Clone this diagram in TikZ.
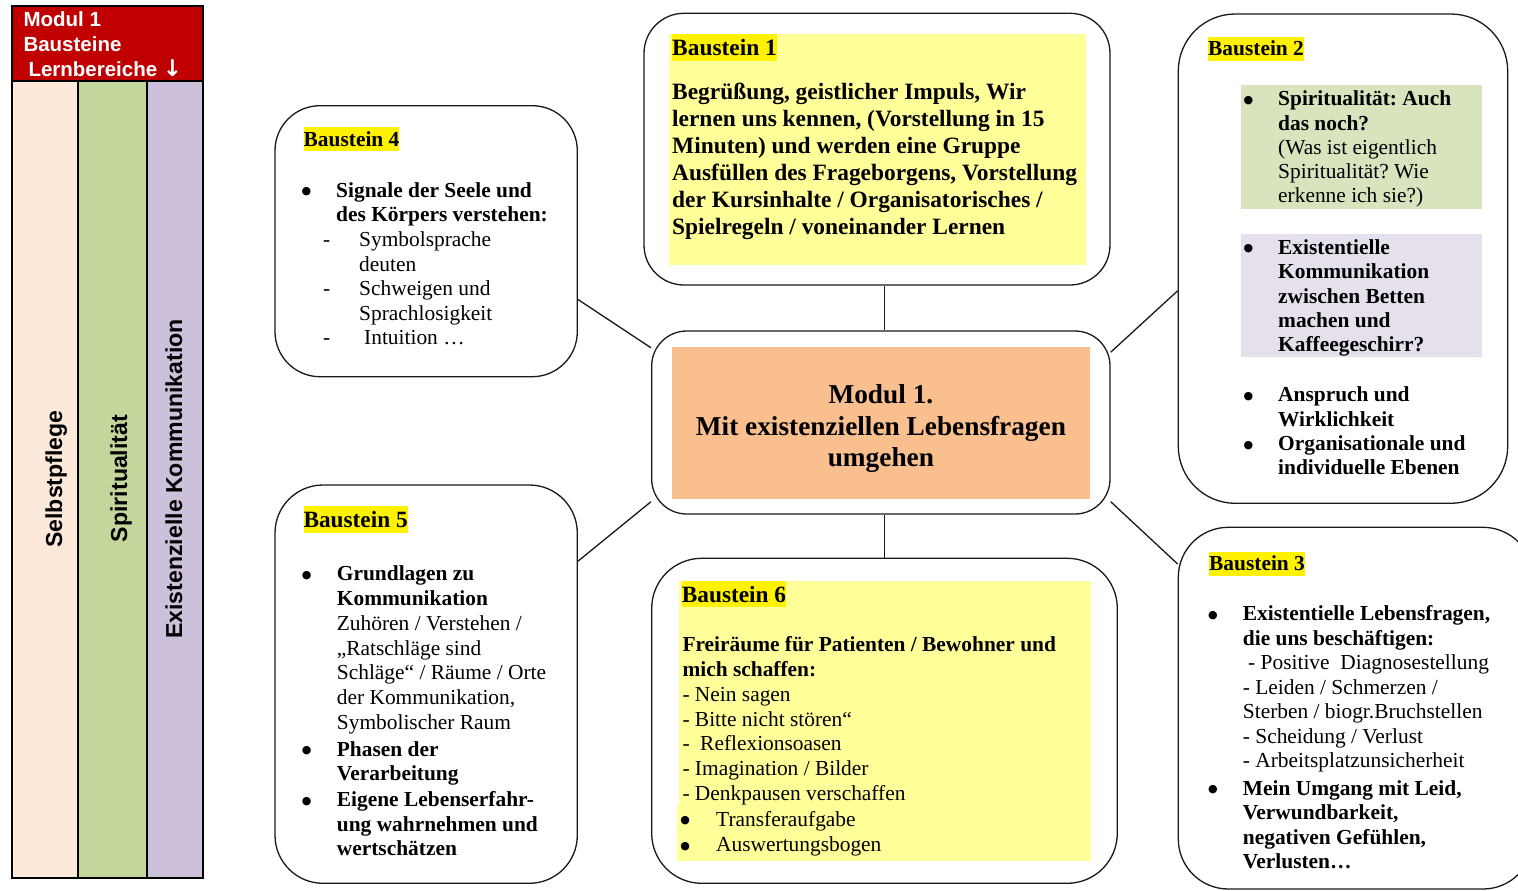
\documentclass[tikz,border=0pt]{standalone}
\usepackage{fontspec}
\setmainfont{Liberation Serif}
\newfontfamily\arialfont{Liberation Sans}
\newfontfamily\symfont{DejaVu Sans}
\usetikzlibrary{calc}
\frenchspacing

\definecolor{redhead}{RGB}{192,0,0}
\definecolor{peach}{RGB}{252,233,218}
\definecolor{sage}{RGB}{195,214,155}
\definecolor{lilac}{RGB}{204,192,218}
\definecolor{paleyellow}{RGB}{255,255,153}
\definecolor{orangefill}{RGB}{249,191,143}
\definecolor{greenpanel}{RGB}{215,228,189}
\definecolor{purplepanel}{RGB}{229,224,236}
\definecolor{boxline}{RGB}{25,25,25}

% bullet / dash hanging to the left of the text start
\newcommand\bul[1]{\makebox[0pt][r]{\raisebox{2.5pt}{\symfont\fontsize{11}{11}\selectfont ●}\hspace{\dimexpr#1pt-0.5pt\relax}}}
\newcommand\dsh[1]{\makebox[0pt][r]{-\hspace{#1pt}}}
\newcommand\topstrut{\rule{0pt}{20pt}}

\begin{document}
\begin{tikzpicture}[x=1pt,y=-1pt,
  box/.style={draw=boxline, line width=1.3pt, inner sep=0pt, rectangle},
  txt/.style={anchor=north west, inner sep=0pt, align=left},
  tagsmall/.style={fill=yellow, inner sep=0pt, anchor=base west,
    font={\bfseries\fontsize{21.4}{24.6}\selectfont}, text height=19pt, text depth=5pt},
  taglarge/.style={fill=yellow, inner sep=0pt, anchor=base west,
    font={\bfseries\fontsize{23.3}{26.8}\selectfont}, text height=21.5pt, text depth=5pt},
  body/.style={font={\fontsize{21.4}{#1}\selectfont}},
  side/.style={rotate=90, anchor=base, inner sep=0pt,
    font={\arialfont\bfseries\fontsize{23.1}{27}\selectfont}},
  link/.style={draw=boxline, line width=1.3pt}
]
\useasboundingbox (0,0) rectangle (1518,891);
\fill[white] (0,0) rectangle (1518,891);
\clip (0,0) rectangle (1518,891);

% ---------- left column: learning areas ----------
\fill[redhead] (11.7,6) rectangle (202.7,81);
\fill[peach] (11.7,81) rectangle (77.7,877.7);
\fill[sage] (77.7,81) rectangle (147,877.7);
\fill[lilac] (147,81) rectangle (202.7,877.7);
\draw[line width=2pt] (11.7,6) rectangle (202.7,877.7);
\draw[line width=2pt] (11.7,81) -- (202.7,81);
\draw[line width=2pt] (77.7,81) -- (77.7,877.7);
\draw[line width=2pt] (147,81) -- (147,877.7);
\node[txt, text=white, font={\arialfont\bfseries\fontsize{20.5}{24.7}\selectfont}] (head) at (23.3,9.7)
  {\rule{0pt}{17pt}Modul 1\\Bausteine\\\hspace*{5pt}Lernbereiche {\symfont\fontsize{23}{23}\selectfont ↓}};
\node[side] (selbst) at (62,479) {Selbstpflege};
\node[side] (spirit) at (127,478.5) {Spiritualität};
\node[side] (komm) at (182,479) {Existenzielle Kommunikation};

% ---------- building-block boxes ----------
\node[box, rounded corners=40pt, minimum width=466pt, minimum height=271.7pt] (b1) at (877,149.15) {};
\node[box, rounded corners=57pt, minimum width=329.4pt, minimum height=489.3pt] (b2) at (1343,258.65) {};
\node[box, rounded corners=50pt, minimum width=354.7pt, minimum height=361.7pt] (b3) at (1355.65,708.15) {};
\node[box, rounded corners=45pt, minimum width=302.3pt, minimum height=271pt] (b4) at (426.15,241.2) {};
\node[box, rounded corners=48pt, minimum width=302.3pt, minimum height=398.3pt] (b5) at (426.15,684.15) {};
\node[box, rounded corners=50pt, minimum width=465.6pt, minimum height=325pt] (b6) at (884.5,720.8) {};
\node[box, rounded corners=35pt, minimum width=458.3pt, minimum height=183pt] (c) at (880.85,422.5) {};

% ---------- connectors ----------
\path (c.north) ++(3.4,0) coordinate (cx);
\draw[link] (cx |- b1.south) -- (cx |- c.north);
\draw[link] (cx |- c.south) -- (cx |- b6.north);
\draw[link] (b4.-21.8) -- (c.162);
\draw[link] (b5.39.8) -- (c.199.6);
\draw[link] (b2.191.3) -- (c.17.8);
\draw[link] (b3.141.7) -- (c.-19.6);

% ---------- coloured panels ----------
\fill[paleyellow] (669,34) rectangle (1086,265);
\fill[paleyellow] (679.3,581) rectangle (1091,860.7);
\fill[paleyellow] (676.7,805) rectangle (1091,860.7);
\fill[orangefill] (671.7,346.7) rectangle (1090,499);
\fill[greenpanel] (1241,85) rectangle (1482,209);
\fill[purplepanel] (1241,234) rectangle (1482,357);

% ---------- centre ----------
\node[anchor=north, align=center, inner sep=0pt,
  font={\bfseries\fontsize{27.3}{31.7}\selectfont}] (ctext) at (880.9,379.3)
  {\rule{0pt}{24pt}Modul 1.\\Mit existenziellen Lebensfragen\\umgehen};

% ---------- Baustein 1 ----------
\node[taglarge, font={\bfseries\fontsize{23.4}{27}\selectfont}] (tag1) at (672,55.7) {Baustein 1};
\node[txt, font={\bfseries\fontsize{23.4}{27}\selectfont}] (t1) at (672,79.3)
  {\topstrut Begrüßung, geistlicher Impuls, Wir\\
   lernen uns kennen, (Vorstellung in 15\\
   Minuten) und werden eine Gruppe\\
   Ausfüllen des Frageborgens, Vorstellung\\
   der Kursinhalte / Organisatorisches /\\
   Spielregeln / voneinander Lernen};

% ---------- Baustein 2 ----------
\node[tagsmall] (tag2) at (1208,56) {Baustein 2};
\node[txt, body=24.3] (t2) at (1278,85.5)
  {\topstrut\bul{25.5}\textbf{Spiritualität: Auch}\\
   \textbf{das noch?}\\
   (Was ist eigentlich\\
   Spiritualität? Wie\\
   erkenne ich sie?)\\[27.2pt]
   \bul{25.5}\textbf{Existentielle}\\
   \textbf{Kommunikation}\\
   \textbf{zwischen Betten}\\
   \textbf{machen und}\\
   \textbf{Kaffeegeschirr?}\\[26pt]
   \bul{25.5}\textbf{Anspruch und}\\
   \textbf{Wirklichkeit}\\
   \bul{25.5}\textbf{Organisationale und}\\
   \textbf{individuelle Ebenen}};

% ---------- Baustein 3 ----------
\node[tagsmall] (tag3) at (1209,570.7) {Baustein 3};
\node[txt, body=24.5] (t3) at (1242.7,600.7)
  {\topstrut\bul{25.7}\textbf{Existentielle Lebensfragen,}\\
   \textbf{die uns beschäftigen:}\\
   \hspace*{5.3pt}- Positive\hspace{10.7pt}Diagnosestellung\\
   - Leiden / Schmerzen /\\
   Sterben / biogr.Bruchstellen\\
   - Scheidung / Verlust\\
   - Arbeitsplatzunsicherheit\\[2.8pt]
   \bul{25.7}\textbf{Mein Umgang mit Leid,}\\
   \textbf{Verwundbarkeit,}\\
   \textbf{negativen Gefühlen,}\\
   \textbf{Verlusten…}};

% ---------- Baustein 4 ----------
\node[tagsmall] (tag4) at (303.5,146) {Baustein 4};
\node[txt, body=24.6] (t4) at (336,177)
  {\topstrut\bul{25.5}\textbf{Signale der Seele und}\\
   \textbf{des Körpers verstehen:}\\
   \hspace*{23pt}\dsh{29}Symbolsprache\\
   \hspace*{23pt}deuten\\
   \hspace*{23pt}\dsh{29}Schweigen und\\
   \hspace*{23pt}Sprachlosigkeit\\
   \hspace*{28pt}\dsh{34}Intuition …};

% ---------- Baustein 5 ----------
\node[taglarge] (tag5) at (303.3,527.7) {Baustein 5};
\node[txt, body=24.7] (t5) at (336.7,560.7)
  {\topstrut\bul{26}\textbf{Grundlagen zu}\\
   \textbf{Kommunikation}\\
   Zuhören / Verstehen /\\
   „Ratschläge sind\\
   Schläge“ / Räume / Orte\\
   der Kommunikation,\\
   Symbolischer Raum\\[2.3pt]
   \bul{26}\textbf{Phasen der}\\
   \textbf{Verarbeitung}\\[1pt]
   \bul{26}\textbf{Eigene Lebenserfahr-}\\
   \textbf{ung wahrnehmen und}\\
   \textbf{wertschätzen}};

% ---------- Baustein 6 ----------
\node[taglarge] (tag6) at (681.7,602.3) {Baustein 6};
\node[txt, body=24.7] (t6) at (682.3,631.7)
  {\topstrut\textbf{Freiräume für Patienten / Bewohner und}\\
   \textbf{mich schaffen:}\\
   - Nein sagen\\
   - Bitte nicht stören“\\
   -\hspace{10.6pt}Reflexionsoasen\\
   - Imagination / Bilder\\
   - Denkpausen verschaffen\\[1.4pt]
   \hspace*{33.7pt}\bul{26.8}Transferaufgabe\\[1pt]
   \hspace*{33.7pt}\bul{26.8}Auswertungsbogen};

\end{tikzpicture}
\end{document}
